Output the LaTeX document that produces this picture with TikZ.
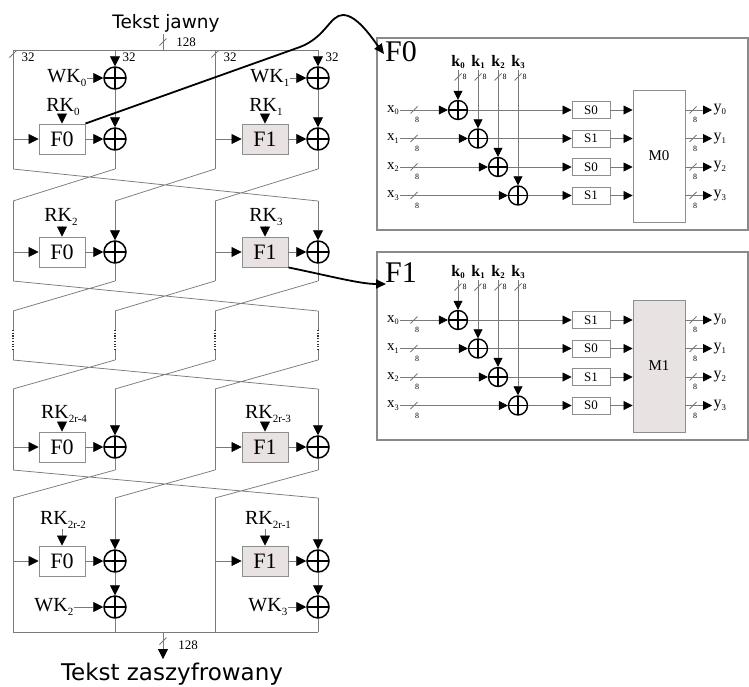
\documentclass[tikz,border=0pt]{standalone}
\usepackage{fontspec}
\usepackage{graphicx}
\setmainfont{Liberation Serif}
\newfontfamily\sansf{DejaVu Sans}
\usetikzlibrary{arrows.meta,calc}
\definecolor{ln}{HTML}{7A7A7A}
\definecolor{bx}{HTML}{8E8E8E}
\definecolor{gf}{HTML}{E8E2E2}
\definecolor{pn}{HTML}{8A8A8A}
\newcommand\sbs[1]{\raisebox{-0.35ex}{\scalebox{0.55}{#1}}}
\newcommand\fs[1]{\fontsize{#1}{#1}\selectfont}
\newcommand\lanes[2]{%
  \coordinate (#1-0) at (13,#2);
  \coordinate (#1-1) at (115,#2);
  \coordinate (#1-2) at (215,#2);
  \coordinate (#1-3) at (318,#2);}
\newcommand\crosslanes[2]{%
  \draw[wire] (#1-0) -- (#2-3) (#1-1) -- (#2-0) (#1-2) -- (#2-1) (#1-3) -- (#2-2);}
\newcommand\tick[2]{\draw[wire] ({#1-3.5},{#2+3.5}) -- ({#1+3.5},{#2-3.5});}
\newcommand\frow[8]{%
  \node[fbx] (#1fa) at (62,#2) {F0};
  \node[fbx,fill=gf] (#1fb) at (265,#2) {F1};
  \node[xorL] (#1xa) at (115,#2) {};
  \node[xorL] (#1xb) at (318,#2) {};
  \node[lbl] (#1ra) at (#7,#3) {RK\sbs{#4}};
  \node[lbl] (#1rb) at (#8,#3) {RK\sbs{#5}};
  \draw[wire,arr] (#1ra.south -| #1fa.north) -- (#1fa.north);
  \draw[wire,arr] (#1rb.south -| #1fb.north) -- (#1fb.north);
  \draw[wire,arr] (#1fa.east) -- (#1xa.west);
  \draw[wire,arr] (#1fb.east) -- (#1xb.west);
  \draw[wire,arr] (#6-0 |- #1fa) -- (#1fa.west);
  \draw[wire,arr] (#6-2 |- #1fb) -- (#1fb.west);}
\newcommand\fpanel[8]{%
\begin{scope}[shift={(0,#2)}]
  \node[mbx,fill=#8] (#1M) at (659,156) {#7};
  \foreach \ri/\sn in {0/#3,1/#4,2/#5,3/#6} {
    \pgfmathsetmacro\yy{110+28.5*\ri}
    \pgfmathsetmacro\xx{458+20*\ri}
    \node[xorS] (#1x\ri) at (\xx,\yy) {};
    \node[xlab] (#1in\ri) at (393,\yy) {x\sbs{\ri}};
    \node[sbx] (#1s\ri) at (591,\yy) {\sn};
    \node[ylab] (#1out\ri) at (712,\yy) {y\sbs{\ri}};
    \node[klab] (#1k\ri) at (\xx,62) {k\sbs{\ri}};
    \draw[wire,sarr] (#1k\ri.south) -- (#1x\ri.north);
    \draw[wire,sarr] (#1in\ri.east) -- (#1x\ri.west);
    \draw[wire,sarr] (#1x\ri.east) -- (#1s\ri.west);
    \draw[wire,sarr] (#1s\ri.east) -- (#1s\ri.east -| #1M.west);
    \draw[wire,sarr] (#1s\ri.east -| #1M.east) -- (#1out\ri.west);
    \tick{414}{\yy}
    \node[eight] (#1ea\ri) at (417,\yy+10) {8};
    \tick{\xx}{77}
    \node[eight] (#1eb\ri) at (\xx+6.5,77) {8};
    \tick{693}{\yy}
    \node[eight] (#1ec\ri) at (695,\yy+10) {8};
  }
\end{scope}}
\begin{document}
\begin{tikzpicture}[x=1pt,y=-1pt,
 wire/.style={draw=ln, line width=0.75pt},
 arr/.style={-{Triangle[length=10pt,width=10pt,color=black]}},
 sarr/.style={-{Triangle[length=9pt,width=9pt,color=black]}},
 xorL/.style={circle, draw=black, line width=1.5pt, minimum size=22pt, inner sep=0pt,
   path picture={\draw[black,line width=1.5pt] (path picture bounding box.north)--(path picture bounding box.south) (path picture bounding box.west)--(path picture bounding box.east);}},
 xorS/.style={xorL, minimum size=19pt, line width=1.4pt},
 fbx/.style={draw=bx, line width=0.9pt, minimum width=46pt, minimum height=30pt, inner sep=0pt, font=\fs{22}},
 lbl/.style={inner sep=0.5pt, font=\fs{20}},
 num/.style={inner sep=0.5pt, font=\fs{13}},
 sbx/.style={draw=bx, line width=0.9pt, minimum width=38pt, minimum height=17pt, inner sep=0pt, font=\fs{13}},
 mbx/.style={draw=bx, line width=0.9pt, minimum width=52pt, minimum height=132pt, inner sep=0pt, font=\fs{15}},
 klab/.style={inner sep=1pt, font=\bfseries\fs{16}},
 xlab/.style={inner sep=1pt, font=\fs{15}},
 ylab/.style={anchor=west, inner sep=1.5pt, font=\fs{16}},
 eight/.style={inner sep=0pt, font=\fs{8}},
 pnl/.style={draw=pn, line width=1.6pt, inner sep=0pt},
 biglab/.style={inner sep=1pt, font=\fs{30}},
 thk/.style={draw=black, line width=1.8pt, -{Triangle[length=10pt,width=9pt]}},
 dotseg/.style={draw=black!80, line width=1.6pt, dash pattern=on 1.2pt off 1.5pt}]
\useasboundingbox (0,0) rectangle (749,686);

% ---------- input ----------
\node[font=\sansf\fs{18.5}, anchor=base] (tj) at (166,28) {Tekst jawny};
\coordinate (tin) at (163,34);
\coordinate (tjoin) at (163,50);
\draw[wire] (tin) -- (tjoin);
\tick{163}{42}
\node[num] (n128a) at (186,42) {128};

% ---------- round 1 ----------
\lanes{t1}{50}
\lanes{b1}{169}
\draw[wire] (t1-0) -- (t1-3);
\frow{r1}{139}{107}{0}{1}{t1}{63}{266}
\node[xorL] (w1a) at (115,78) {};
\node[xorL] (w1b) at (318,78) {};
\node[lbl,anchor=east] (wk0) at (87,78) {WK\sbs{0}};
\node[lbl,anchor=east] (wk1) at (290,78) {WK\sbs{1}};
\draw[wire,arr] (wk0.east) -- (w1a.west);
\draw[wire,arr] (wk1.east) -- (w1b.west);
\draw[wire] (t1-0) -- (b1-0);
\draw[wire] (t1-2) -- (b1-2);
\draw[wire,arr] (t1-1) -- (w1a.north);
\draw[wire,arr] (w1a.south) -- (r1xa.north);
\draw[wire] (r1xa.south) -- (b1-1);
\draw[wire,arr] (t1-3) -- (w1b.north);
\draw[wire,arr] (w1b.south) -- (r1xb.north);
\draw[wire] (r1xb.south) -- (b1-3);
\tick{13}{54}
\tick{215}{54}
\node[num] (n32a) at (28,57) {32};
\node[num] (n32b) at (129,57) {32};
\node[num] (n32c) at (230,57) {32};
\node[num] (n32d) at (332,57) {32};

% ---------- round 2 ----------
\lanes{t2}{201}
\crosslanes{b1}{t2}
\lanes{b2}{281}
\frow{r2}{252}{217}{2}{3}{t2}{61}{266}
\draw[wire] (t2-0) -- (b2-0);
\draw[wire] (t2-2) -- (b2-2);
\draw[wire,arr] (t2-1) -- (r2xa.north);
\draw[wire] (r2xa.south) -- (b2-1);
\draw[wire,arr] (t2-3) -- (r2xb.north);
\draw[wire] (r2xb.south) -- (b2-3);

% ---------- round 3 (dotted) ----------
\lanes{t3}{311}
\crosslanes{b2}{t3}
\lanes{d3a}{330}
\lanes{d3b}{350}
\lanes{b3}{360}
\foreach \i in {0,1,2,3} {
  \draw[wire] (t3-\i) -- (d3a-\i);
  \draw[dotseg] (d3a-\i) -- (d3b-\i);
  \draw[wire] (d3b-\i) -- (b3-\i);
}

% ---------- round 4 ----------
\lanes{t4}{389}
\crosslanes{b3}{t4}
\lanes{b4}{470}
\frow{r4}{447}{414}{2r-4}{2r-3}{t4}{64}{268}
\draw[wire] (t4-0) -- (b4-0);
\draw[wire] (t4-2) -- (b4-2);
\draw[wire,arr] (t4-1) -- (r4xa.north);
\draw[wire] (r4xa.south) -- (b4-1);
\draw[wire,arr] (t4-3) -- (r4xb.north);
\draw[wire] (r4xb.south) -- (b4-3);

% ---------- round 5 ----------
\lanes{t5}{498}
\crosslanes{b4}{t5}
\lanes{b5}{632}
\frow{r5}{561}{520}{2r-2}{2r-1}{t5}{63}{268}
\node[xorL] (w5a) at (115,607) {};
\node[xorL] (w5b) at (318,607) {};
\node[lbl,anchor=east] (wk2) at (74,607) {WK\sbs{2}};
\node[lbl,anchor=east] (wk3) at (288,607) {WK\sbs{3}};
\draw[wire,arr] (wk2.east) -- (w5a.west);
\draw[wire,arr] (wk3.east) -- (w5b.west);
\draw[wire] (t5-0) -- (b5-0);
\draw[wire] (t5-2) -- (b5-2);
\draw[wire,arr] (t5-1) -- (r5xa.north);
\draw[wire,arr] (r5xa.south) -- (w5a.north);
\draw[wire] (w5a.south) -- (b5-1);
\draw[wire,arr] (t5-3) -- (r5xb.north);
\draw[wire,arr] (r5xb.south) -- (w5b.north);
\draw[wire] (w5b.south) -- (b5-3);
\draw[wire] (b5-0) -- (b5-3);

% ---------- output ----------
\coordinate (bo) at (163,632);
\coordinate (bt) at (163,659);
\draw[wire,arr] (bo) -- (bt);
\tick{163}{641}
\node[num] (n128b) at (188,645) {128};
\node[font=\sansf\fs{23}, anchor=base] (tz) at (172,680) {Tekst zaszyfrowany};

% ---------- panels ----------
\node[pnl, minimum width=371pt, minimum height=192pt] (P0) at (562.5,134) {};
\node[pnl, minimum width=371pt, minimum height=188pt] (P1) at (562.5,346) {};
\node[biglab] (P0lab) at (401,52) {F0};
\node[biglab] (P1lab) at (401,273) {F1};
\fpanel{A}{0}{S0}{S1}{S0}{S1}{M0}{white}
\fpanel{B}{210}{S1}{S0}{S1}{S0}{M1}{gf}

% ---------- zoom connectors ----------
\coordinate (a0end) at (384,54);
\coordinate (a1end) at (386,284);
\draw[thk] (r1fa.north east) -- (300,47) .. controls (326,37) and (330,15) .. (343,15) .. controls (357,15) and (372,38) .. (a0end);
\draw[thk] (r2fb.south east) .. controls (330,276) and (360,284) .. (a1end);
\end{tikzpicture}
\end{document}
